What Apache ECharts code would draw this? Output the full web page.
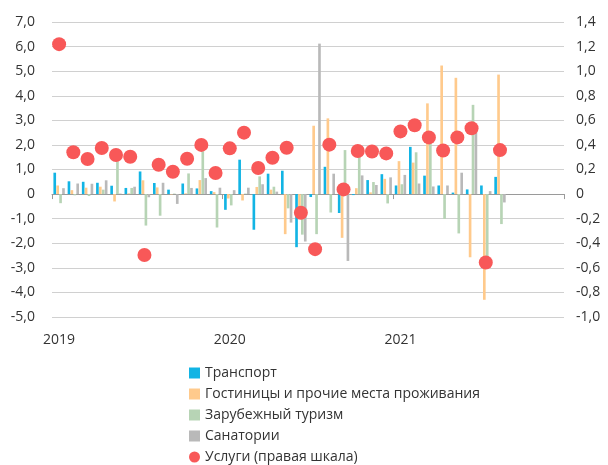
<!DOCTYPE html>
<html>
<head>
<meta charset="utf-8">
<script src="https://cdn.jsdelivr.net/npm/echarts@6/dist/echarts.min.js"></script>
<style>
html,body{margin:0;padding:0;background:#fff;}
#chart{width:608px;height:465px;}
</style>
</head>
<body>
<div id="chart"></div>
<script>
// месяцы 2019-2021
var months = [];
for (var y = 2019; y <= 2021; y++) {
	for (var m = 1; m <= 12; m++) {
		months.push(y + '-' + (m < 10 ? '0' + m : m));
	}
}

var transport = [0.87, 0.52, 0.50, 0.46, 0.34, 0.25, 0.92, 0.45, 0.18, 0.43, 0.23, 0.12,
	-0.64, 1.40, -1.45, 0.83, 0.95, -2.16, -0.12, 1.11, -0.77, -0.04, 0.57, 0.81,
	0.35, 1.92, 0.75, 0.35, 0.06, 0.19, 0.35, 0.70];
var hotels = [0.35, 0.16, 0.26, 0.30, -0.30, 0.03, 0.56, 0.27, -0.02, 0.03, 0.57, 0.08,
	-0.18, -0.26, 0.29, 0.18, -1.63, -0.90, 2.78, 3.08, -1.78, 0.24, 0.07, 0.62,
	1.34, 1.28, 3.69, 5.23, 4.73, -2.57, -4.30, 4.86];
var abroad = [-0.37, -0.05, -0.08, 0.18, 1.33, 0.25, -1.28, -0.88, 0.02, 0.84, 1.74, -1.36,
	-0.46, 0.02, 0.72, 0.30, -0.58, -1.65, -1.63, -0.75, 1.79, 1.60, 0.49, -0.38,
	0.40, 1.70, 2.10, -1.01, -1.60, 3.63, -2.70, -1.22];
var sanatoria = [0.24, 0.43, 0.42, 0.56, 0.02, 0.30, -0.13, 0.46, -0.40, 0.25, 0.65, 0.26,
	0.16, 0.26, 0.40, 0.10, -1.16, -1.93, 6.12, 0.83, -2.72, 0.76, 0.37, 0.68,
	0.78, 0.43, 0.31, 0.35, 0.87, 2.60, 0.12, -0.34];
// правая шкала
var services = [1.22, 0.34, 0.285, 0.375, 0.318, 0.304, -0.495, 0.239, 0.182, 0.288, 0.40, 0.171,
	0.372, 0.50, 0.212, 0.296, 0.377, -0.152, -0.448, 0.402, 0.038, 0.35, 0.347, 0.331,
	0.51, 0.56, 0.461, 0.355, 0.461, 0.535, -0.557, 0.358];

var names = ['Транспорт', 'Гостиницы и прочие места проживания', 'Зарубежный туризм', 'Санатории', 'Услуги (правая шкала)'];
var colors = ['#12b4e4', '#ffca8c', '#b7d4b5', '#b9b9b9', '#f85858'];

function numFmt(v) {
	if (Math.abs(v) < 1e-9) return '0';
	return v.toFixed(1).replace('.', ',');
}

var myChart = echarts.init(document.getElementById('chart'));

function barSeries(i, data) {
	return {
		name: names[i],
		type: 'bar',
		xAxisIndex: 0,
		yAxisIndex: 0,
		barGap: '10%',
		barCategoryGap: '20%',
		itemStyle: { color: colors[i] },
		data: data
	};
}

var option = {
	animation: false,
	textStyle: { fontFamily: 'Open Sans' },
	grid: { left: 52, right: 44, top: 22, bottom: 148 },
	legend: {
		orient: 'vertical',
		left: 184,
		top: 361,
		height: 200,
		itemWidth: 11,
		itemHeight: 11,
		itemGap: 7,
		textStyle: { fontSize: 14, color: '#333', fontFamily: 'Open Sans' },
		data: [
			{ name: names[0], icon: 'rect' },
			{ name: names[1], icon: 'rect' },
			{ name: names[2], icon: 'rect' },
			{ name: names[3], icon: 'rect' },
			{ name: names[4], icon: 'circle' }
		]
	},
	xAxis: [
		{
			type: 'category',
			data: months,
			axisLine: { onZero: true, lineStyle: { color: '#9a9a9a', width: 1 } },
			axisTick: {
				show: true,
				length: 5,
				lineStyle: { color: '#9a9a9a' },
				interval: function (idx) { return idx % 12 === 0; }
			},
			axisLabel: { show: false }
		},
		{
			type: 'category',
			data: months,
			position: 'bottom',
			axisLine: { show: false, onZero: false },
			axisTick: { show: false },
			axisLabel: {
				margin: 16,
				fontSize: 14,
				color: '#333',
				interval: function (idx) { return idx % 12 === 0; },
				formatter: function (v) { return v.slice(0, 4); }
			}
		}
	],
	yAxis: [
		{
			type: 'value',
			min: -5,
			max: 7,
			interval: 1,
			axisLine: { show: false },
			axisTick: { show: false },
			splitLine: { lineStyle: { color: '#d0d0d0', width: 1 } },
			axisLabel: { margin: 17, fontSize: 14, color: '#333', formatter: numFmt }
		},
		{
			type: 'value',
			min: -1,
			max: 1.4,
			interval: 0.2,
			axisLine: { show: false },
			axisTick: { show: false },
			splitLine: { show: false },
			axisLabel: { margin: 12, fontSize: 14, color: '#333', formatter: numFmt }
		}
	],
	series: [
		barSeries(0, transport),
		barSeries(1, hotels),
		barSeries(2, abroad),
		barSeries(3, sanatoria),
		{
			name: names[4],
			type: 'scatter',
			xAxisIndex: 0,
			yAxisIndex: 1,
			symbolSize: 14,
			z: 5,
			itemStyle: { color: colors[4], opacity: 1 },
			data: services
		}
	]
};
myChart.setOption(option);
</script>
</body>
</html>
